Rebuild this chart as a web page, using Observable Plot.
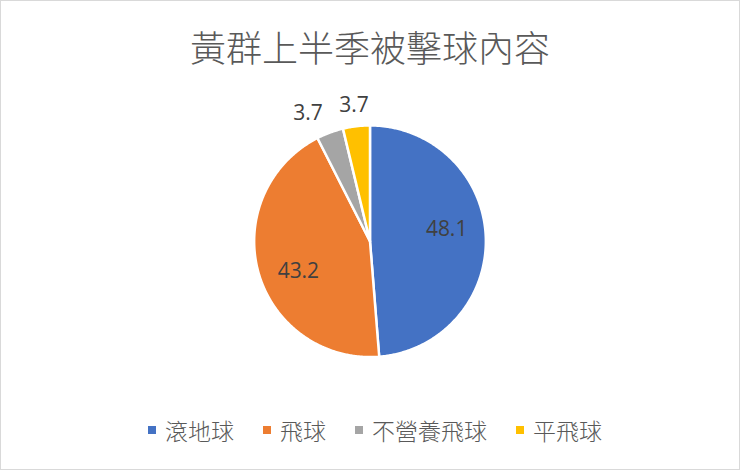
<!DOCTYPE html>
<html><head><meta charset="utf-8">
<script src="https://cdn.jsdelivr.net/npm/d3@7"></script>
<script src="https://cdn.jsdelivr.net/npm/@observablehq/plot@0.6"></script>
<style>
body{margin:0;background:#fff;}
#chart{position:relative;width:738px;height:468px;border:1px solid #d9d9d9;background:#fff;font-family:"Noto Sans CJK TC","Noto Sans",sans-serif;overflow:hidden}
#title{position:absolute;top:24px;left:0;width:100%;text-align:center;font-size:36px;line-height:42px;color:#595959;font-weight:300}
#plot{position:absolute;top:79px;left:-1px}
#legend{position:absolute;top:414px;left:0;width:100%;box-sizing:border-box;padding-left:10px;display:flex;justify-content:center;gap:29px;font-size:23px;line-height:30px;color:#595959;font-weight:300}
.item{display:flex;align-items:center;gap:9px}
.sw{width:8px;height:8px}
</style></head><body>
<div id="chart"><div id="title"></div><div id="plot"></div><div id="legend"></div></div>
<script>
const title = "黃群上半季被擊球內容";
const categories = ["滾地球", "飛球", "不營養飛球", "平飛球"];
const values = [48.1, 43.2, 3.7, 3.7];
const colors = ["#4472C4", "#ED7D31", "#A5A5A5", "#FFC000"];

document.getElementById("title").textContent = title;

const W = 740, H = 320, R = 116, cx = 370, cy = 161;
const rows = categories.map((c, i) => ({cat: c, value: values[i]}));
const arcs = d3.pie().sort(null).value(d => d.value)(rows);

const pts = [];
for (const a of arcs) {
  const c = a.data.cat;
  pts.push({cat: c, x: 0, y: 0});
  const n = Math.max(2, Math.ceil((a.endAngle - a.startAngle) / (Math.PI / 360)));
  for (let k = 0; k <= n; k++) {
    const t = a.startAngle + (a.endAngle - a.startAngle) * k / n;
    pts.push({cat: c, x: Math.sin(t), y: Math.cos(t)});
  }
  pts.push({cat: c, x: 0, y: 0});
}

const fmt = d3.format(".1f");
const labels = arcs.map(a => {
  const share = (a.endAngle - a.startAngle) / (2 * Math.PI);
  const inside = share > 0.1;
  const mid = (a.startAngle + a.endAngle) / 2 - (inside ? 0.12 : 0);
  const r = inside ? 0.67 : 1.18;
  const s = Math.sin(mid);
  return {
    x: s * r, y: Math.cos(mid) * r, text: fmt(a.data.value),
    anchor: inside ? "middle" : (s < -0.2 ? "end" : "middle")
  };
});

const textOpts = {x: "x", y: "y", text: "text", fontSize: 21, fill: "#404040", fontFamily: "'Open Sans', 'Noto Sans', sans-serif", lineAnchor: "middle"};

const plot = Plot.plot({
  width: W, height: H,
  margin: 0,
  x: {domain: [-cx / R, (W - cx) / R], range: [0, W], axis: null},
  y: {domain: [-(H - cy) / R, cy / R], range: [H, 0], axis: null},
  color: {domain: categories, range: colors},
  style: {background: "transparent", overflow: "visible"},
  marks: [
    Plot.line(pts, {x: "x", y: "y", z: "cat", fill: "cat", stroke: "white", strokeWidth: 2.5, strokeLinejoin: "round", curve: "linear"}),
    Plot.text(labels.filter(d => d.anchor === "middle"), {...textOpts, textAnchor: "middle"}),
    Plot.text(labels.filter(d => d.anchor === "end"), {...textOpts, textAnchor: "end"})
  ]
});
document.getElementById("plot").appendChild(plot);

const legend = document.getElementById("legend");
categories.forEach((c, i) => {
  const item = document.createElement("div");
  item.className = "item";
  const sw = document.createElement("div");
  sw.className = "sw";
  sw.style.background = colors[i];
  const tx = document.createElement("span");
  tx.textContent = c;
  item.appendChild(sw); item.appendChild(tx);
  legend.appendChild(item);
});
</script>
</body></html>
